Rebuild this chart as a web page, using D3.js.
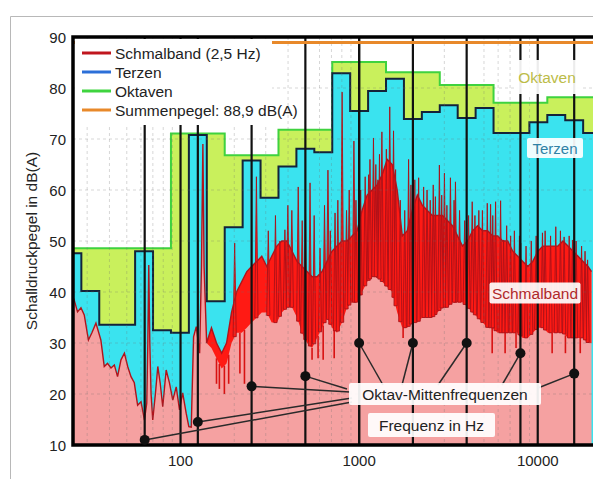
<!DOCTYPE html>
<html>
<head>
<meta charset="utf-8">
<script src="https://cdn.jsdelivr.net/npm/d3@7"></script>
<style>
  html, body { margin: 0; padding: 0; background: #fff; }
  svg text { font-family: "Liberation Sans", Arial, sans-serif; }
</style>
</head>
<body>
<svg id="chart" width="593" height="479"></svg>
<script>
// ---- Third-octave band levels, dB(A) ----
const terzCenters = [25, 31.5, 40, 50, 63, 80, 100, 125, 160, 200, 250, 315, 400, 500, 630, 800,
  1000, 1250, 1600, 2000, 2500, 3150, 4000, 5000, 6300, 8000, 10000, 12500, 16000, 20000];
const terzLevels = [47.6, 40.2, 33.6, 33.6, 48.0, 32.5, 32.0, 70.8, 38.2, 52.7, 65.8, 58.5, 64.6, 68.1, 67.4, 82.9,
  75.5, 79.4, 81.8, 73.9, 75.3, 76.6, 74.1, 76.1, 71.2, 71.2, 73.3, 74.7, 73.7, 71.2];

// ---- Octave band levels, dB(A) ----
const octCenters = [31.5, 63, 125, 250, 500, 1000, 2000, 4000, 8000, 16000];
const octLevels = [48.6, 48.6, 71.1, 66.8, 71.8, 85.1, 83.1, 80.6, 77.1, 78.2];

// ---- Overall level ----
const totalLevel = 88.9;

// ---- Narrowband spectrum (2.5 Hz), low range: single trace ----
const lowFreq = [25, 25.4, 26.5, 27.7, 28.9, 30.5, 31.9, 33.6, 35.8, 37.4, 39, 40.8, 42.6, 44.4, 46.4, 48.5,
  50.6, 52.8, 55.1, 57.5, 60.1, 62.8, 64.7, 65.6, 66.4, 67.3, 68.4, 69.9, 72.4, 74.6, 76.9, 79.5, 83.1,
  86.7, 90.5, 94.6, 98.7, 102.8, 107.6, 111.3, 114.8, 118.3, 122.5, 127.9, 131, 133.4, 135.5];
const lowLevel = [39, 38.4, 36.1, 36.9, 35.5, 30.6, 32, 33.9, 30.6, 25.4, 26, 25.1, 25.7, 23.4, 26.7, 28,
  25.4, 23.4, 22.2, 17.8, 18.5, 14.9, 18.2, 30, 45.3, 30, 20, 14.9, 20.2, 25.4, 22.2, 17.5, 24.7,
  22.2, 18.8, 21.4, 16.9, 20.2, 16.2, 13.6, 13.5, 31.2, 33.2, 28, 45, 69, 45];

// ---- Narrowband spectrum, dense range: lower / upper envelope ----
const denseFreq = [140, 149, 159, 170, 181, 193, 206, 220, 235, 250, 267, 285, 304, 324, 346, 369, 394, 421, 449, 479,
  511, 545, 581, 620, 661, 705, 752, 802, 856, 913, 974, 1039, 1109, 1183, 1262, 1346, 1436, 1532, 1634, 1744,
  1860, 1985, 2118, 2259, 2410, 2571, 2743, 2927, 3122, 3331, 3554, 3792, 4045, 4316, 4605, 4912, 5241, 5592, 5966, 6365,
  6791, 7245, 7730, 8247, 8798, 9387, 10015, 10685, 11400, 12162, 12976, 13844, 14770, 15758, 16812, 17937, 19137, 20000];
const denseMax = [30, 33, 30, 28, 30, 36, 40, 42, 44, 45, 46, 47, 45, 47, 49, 50, 50, 48, 46, 45,
  44, 43, 43, 44, 46, 48, 49, 50, 50, 51, 52, 56, 59, 60, 61, 63, 66, 65, 60, 51,
  52, 56, 59, 57, 56, 55, 55, 55, 54, 53, 51, 49, 50, 52, 53, 52, 52, 51, 51, 50,
  50, 48, 47, 46, 45, 46, 48, 49, 49, 49, 49, 50, 49, 48, 47, 46, 45, 44];
const denseMin = [30, 29, 27, 25, 26, 30, 32, 32, 33, 34, 35, 36, 36, 34, 34, 36, 37, 37, 35, 32,
  30, 29, 31, 33, 35, 33, 32, 34, 37, 38, 38, 40, 42, 43, 43, 42, 41, 40, 36, 33,
  33, 34, 34, 35, 35, 35, 36, 37, 37, 38, 38, 38, 37, 36, 35, 34, 33, 33, 32, 32,
  32, 32, 32, 31, 31, 32, 33, 33, 32, 32, 32, 32, 31, 31, 31, 31, 30, 30];

// ---- Tonal peaks of the narrowband spectrum ----
const peakFreq = [201, 266, 384, 399, 456, 531, 604, 669, 733, 803, 935, 1081, 1203, 1274, 1341, 1484, 1558, 1892, 2154, 2297,
  2673, 2814, 3003, 3245, 3462, 4297, 4680, 5218, 5445, 5808, 6196, 6440, 7051, 8028, 10627, 12620, 14053, 15661, 19020,
  310, 340, 360, 420, 480, 500, 560, 640, 690, 760, 850, 880, 960,
  1020, 1130, 1150, 1240, 1300, 1420, 1600, 1700, 1800, 1950, 2050,
  2400, 2500, 2600, 2900, 3100, 3400, 3650, 3900, 4100, 4450, 4900, 5600,
  6700, 7400, 7900, 8600, 9200, 9800, 11000, 11800, 13400, 15000, 16400, 17600, 18400];
const peakLevel = [49.6, 62.6, 52.2, 57, 60.6, 61.4, 48.6, 63.9, 55.5, 79.2, 69.6, 62.6, 70.2, 62, 71.4, 76.3, 71.6, 66, 62.4, 60.6,
  58.7, 64.9, 63.3, 62.4, 61.6, 57.7, 56, 57.4, 57.2, 57.7, 57.9, 50.2, 51, 49.6, 51.6, 52.8, 50.8, 50.2, 46.3,
  52, 55, 50, 56, 54, 58, 55, 57, 52, 58, 56, 60, 58,
  60, 63, 66, 65, 67, 68, 64, 58, 56, 61, 62,
  60, 58, 61, 59, 57, 58, 56, 54, 55, 55, 56, 55,
  53, 52, 51, 49, 50, 51, 52, 51, 52, 51, 50, 49, 48];

// ---- Deep dips of the narrowband spectrum ----
const dipFreq = [159, 165, 176, 186, 215, 228, 545, 589, 629, 725, 1763, 5558, 6567, 7560, 12040, 14290, 17300];
const dipLevel = [22, 21, 20, 22, 24, 22, 26.7, 27, 26.7, 27, 31, 28, 28, 29, 28, 28, 28];

// ---- Octave mid-frequency markers ----
const markerFreq = [63, 125, 250, 500, 1000, 2000, 4000, 8000, 16000];
const markerLevel = [11, 14.5, 21.5, 23.5, 30, 30, 30, 28, 24];
const decadeFreq = [100, 1000, 10000];

// ---- Axes ticks ----
const yTicks = [10, 20, 30, 40, 50, 60, 70, 80, 90];
const xTickLabels = ["100", "1000", "10000"];

// =================================================================
const W = 593, H = 479;
const plot = { left: 73, right: 591.5, top: 37, bottom: 445 };
const x = d3.scaleLog().domain([25, 20000]).range([plot.left, plot.right]);
const y = d3.scaleLinear().domain([10, 90]).range([plot.bottom, plot.top]);

const svg = d3.select("#chart");
svg.append("rect").attr("width", W).attr("height", H).attr("fill", "#fff");
// outer figure frame
svg.append("path").attr("d", `M10.5,${H} V16.5 H${W}`)
  .attr("fill", "none").attr("stroke", "#b8b8b8").attr("stroke-width", 1);

svg.append("defs").append("clipPath").attr("id", "plotClip")
  .append("rect").attr("x", plot.left).attr("y", plot.top)
  .attr("width", W - plot.left).attr("height", plot.bottom - plot.top);
const g = svg.append("g").attr("clip-path", "url(#plotClip)");

// step outline of constant-percentage bands
function bandSteps(centers, levels, perOct) {
  const pts = [];
  centers.forEach((fc, i) => {
    const n = Math.round(perOct * Math.log2(fc / 1000));
    const lo = 1000 * Math.pow(2, (n - 0.5) / perOct);
    const hi = 1000 * Math.pow(2, (n + 0.5) / perOct);
    pts.push([lo, levels[i]], [hi, levels[i]]);
  });
  return pts;
}
const stepArea = d3.area().x(d => x(d[0])).y0(y(10)).y1(d => y(d[1]));
const stepLine = d3.line().x(d => x(d[0])).y(d => y(d[1]));

// octave bands
const octPts = bandSteps(octCenters, octLevels, 1);
g.append("path").attr("d", stepArea(octPts)).attr("fill", "#c9f05c");
g.append("path").attr("d", stepLine(octPts)).attr("fill", "none")
  .attr("stroke", "#3fd23f").attr("stroke-width", 2);

// third-octave bands
const terzPts = bandSteps(terzCenters, terzLevels, 3);
g.append("path").attr("d", stepArea(terzPts)).attr("fill", "#3ae3ef");
g.append("path").attr("d", stepLine(terzPts)).attr("fill", "none")
  .attr("stroke", "#14233a").attr("stroke-width", 2);

// narrowband spectrum
const nb = lowFreq.map((f, i) => ({ f, lo: lowLevel[i], hi: lowLevel[i] }))
  .concat(denseFreq.map((f, i) => ({ f, lo: denseMin[i], hi: denseMax[i] })));
const nbF = nb.map(d => d.f), nbLo = nb.map(d => d.lo);
function levelAt(f, fs, vs) {
  const i = d3.bisectRight(fs, f);
  if (i <= 0) return vs[0];
  if (i >= fs.length) return vs[fs.length - 1];
  const t = (Math.log(f) - Math.log(fs[i - 1])) / (Math.log(fs[i]) - Math.log(fs[i - 1]));
  return vs[i - 1] + t * (vs[i] - vs[i - 1]);
}

g.append("path")
  .attr("d", d3.area().x(d => x(d.f)).y0(y(10)).y1(d => y(d.hi))(nb))
  .attr("fill", "#f5a1a1");
g.append("path")
  .attr("d", d3.area().x(d => x(d.f)).y0(d => y(d.lo)).y1(d => y(d.hi))(nb))
  .attr("fill", "#ff1a14");

// dips reaching below the lower envelope
g.selectAll("line.dip").data(dipFreq).join("line").attr("class", "dip")
  .attr("x1", f => x(f)).attr("x2", f => x(f))
  .attr("y1", f => y(levelAt(f, nbF, nbLo)))
  .attr("y2", (f, i) => y(dipLevel[i]))
  .attr("stroke", "#d81212").attr("stroke-width", 1.6);

// tonal peaks as needles
g.selectAll("path.peak").data(peakFreq).join("path").attr("class", "peak")
  .attr("d", (f, i) => {
    const px = x(f), base = y(levelAt(f, nbF, nbLo)), top = y(peakLevel[i]);
    return `M${px - 1.6},${base} L${px},${top} L${px + 1.6},${base} Z`;
  })
  .attr("fill", "#ff1a14").attr("stroke", "#a8121a").attr("stroke-width", 0.9);

// upper trace of the narrowband
g.append("path")
  .attr("d", d3.line().x(d => x(d.f)).y(d => y(d.hi))(nb))
  .attr("fill", "none").attr("stroke", "#b0141c").attr("stroke-width", 1.4);

// grid
const minorF = [];
[10, 100, 1000, 10000].forEach(dec => {
  for (let k = 2; k <= 9; k++) { const f = k * dec; if (f > 25 && f < 20000) minorF.push(f); }
});
g.selectAll("line.vgrid").data(minorF).join("line").attr("class", "vgrid")
  .attr("x1", f => x(f)).attr("x2", f => x(f)).attr("y1", plot.top).attr("y2", plot.bottom)
  .attr("stroke", "#707070").attr("stroke-opacity", 0.28).attr("stroke-dasharray", "3,3");
g.selectAll("line.hgrid").data(yTicks.slice(1, -1)).join("line").attr("class", "hgrid")
  .attr("x1", plot.left).attr("x2", W).attr("y1", v => y(v)).attr("y2", v => y(v))
  .attr("stroke", "#707070").attr("stroke-opacity", 0.28).attr("stroke-dasharray", "3,3");

// black reference lines at octave mid frequencies and decades
g.selectAll("line.ref").data(markerFreq.concat(decadeFreq)).join("line").attr("class", "ref")
  .attr("x1", f => x(f)).attr("x2", f => x(f)).attr("y1", plot.top).attr("y2", plot.bottom)
  .attr("stroke", "#111").attr("stroke-width", 2.2);

// overall level
g.append("line").attr("x1", plot.left).attr("x2", W)
  .attr("y1", y(totalLevel)).attr("y2", y(totalLevel))
  .attr("stroke", "#e8892a").attr("stroke-width", 3);

// frame
svg.append("path")
  .attr("d", `M${W},${plot.top} H${plot.left} V${plot.bottom} H${W}`)
  .attr("fill", "none").attr("stroke", "#000").attr("stroke-width", 3.5);

// y axis
svg.selectAll("text.ytick").data(yTicks).join("text").attr("class", "ytick")
  .attr("x", 66).attr("y", v => y(v)).attr("text-anchor", "end")
  .attr("dominant-baseline", "central").attr("font-size", 15).attr("fill", "#222")
  .text(v => v);
svg.append("text").attr("transform", `translate(31,${(plot.top + plot.bottom) / 2}) rotate(-90)`)
  .attr("text-anchor", "middle").attr("dominant-baseline", "central")
  .attr("font-size", 15.5).attr("fill", "#222").text("Schalldruckpegel in dB(A)");

// x axis
svg.selectAll("text.xtick").data(decadeFreq).join("text").attr("class", "xtick")
  .attr("x", f => x(f)).attr("y", 466).attr("text-anchor", "middle")
  .attr("font-size", 15).attr("fill", "#222")
  .text((f, i) => xTickLabels[i]);

// legend
const legend = svg.append("g");
legend.append("rect").attr("x", plot.left + 2).attr("y", plot.top + 2)
  .attr("width", 197).attr("height", 86).attr("fill", "#fff");
const legendItems = [
  { label: "Schmalband (2,5 Hz)", color: "#c0161e" },
  { label: "Terzen", color: "#2c6fd8" },
  { label: "Oktaven", color: "#3fd43f" },
  { label: "Summenpegel: 88,9 dB(A)", color: "#e8892a" }
];
legendItems.forEach((it, i) => {
  const ly = 53 + i * 19;
  legend.append("line").attr("x1", 82).attr("x2", 111).attr("y1", ly).attr("y2", ly)
    .attr("stroke", it.color).attr("stroke-width", 3);
  legend.append("text").attr("x", 115).attr("y", ly).attr("dominant-baseline", "central")
    .attr("font-size", 15.5).attr("fill", "#222").text(it.label);
});

// series labels
function boxedLabel(cx, cy, w, h, text, color, size) {
  const gg = svg.append("g");
  gg.append("rect").attr("x", cx - w / 2).attr("y", cy - h / 2).attr("width", w).attr("height", h)
    .attr("fill", "#fff").attr("fill-opacity", 0.92).attr("rx", 2);
  gg.append("text").attr("x", cx).attr("y", cy).attr("text-anchor", "middle")
    .attr("dominant-baseline", "central").attr("font-size", size).attr("fill", color).text(text);
}
boxedLabel(547, 77, 66, 34, "Oktaven", "#bcbc48", 15.5);
boxedLabel(555, 148, 56, 20, "Terzen", "#2f82a6", 15);
boxedLabel(535, 293, 91, 21, "Schmalband", "#b0282a", 15.5);

// markers with leader lines
const leaderEnd = [[352, 402], [352, 398], [350, 392], [347, 389], [383, 385], [402, 385], [438, 385], [502, 385], [538, 388]];
svg.selectAll("line.leader").data(markerFreq).join("line").attr("class", "leader")
  .attr("x1", f => x(f)).attr("y1", (f, i) => y(markerLevel[i]))
  .attr("x2", (f, i) => leaderEnd[i][0]).attr("y2", (f, i) => leaderEnd[i][1])
  .attr("stroke", "#2a2a2a").attr("stroke-width", 1.5);
svg.selectAll("circle.marker").data(markerFreq).join("circle").attr("class", "marker")
  .attr("cx", f => x(f)).attr("cy", (f, i) => y(markerLevel[i])).attr("r", 5)
  .attr("fill", "#111");

boxedLabel(445, 394, 192, 22, "Oktav-Mittenfrequenzen", "#222", 15.5);
boxedLabel(431.5, 425, 127, 24, "Frequenz in Hz", "#222", 15.5);
</script>
</body>
</html>
